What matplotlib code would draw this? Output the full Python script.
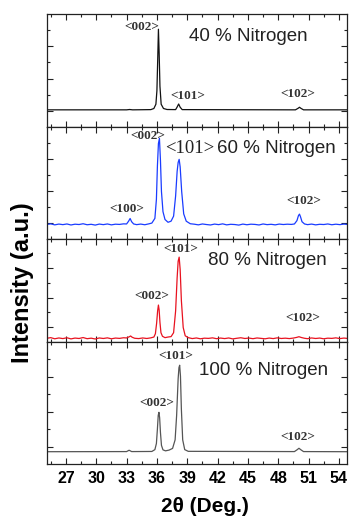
import matplotlib
matplotlib.use("Agg")
import matplotlib.pyplot as plt
from matplotlib.ticker import MultipleLocator, FixedLocator

# 2theta (deg) and intensity (a.u., 0-100 per panel)
tt_40 = [25.1, 33.0, 33.3, 33.6, 35.4, 35.7, 35.9, 36.0, 36.08, 36.15, 36.22,
         36.3, 36.42, 36.65, 37.0, 37.85, 38.0, 38.15, 38.3, 38.5, 49.7,
         49.95, 50.1, 50.25, 50.5, 54.8]
int_40 = [15.0, 15.0, 15.3, 15.0, 15.2, 16.2, 20.0, 32.0, 60.0, 86.7, 66.0,
          36.0, 20.0, 16.2, 15.3, 15.2, 17.5, 20.2, 17.3, 15.2, 15.0,
          16.3, 17.3, 16.3, 15.0, 15.0]

tt_60 = [25.1, 25.5, 25.9, 26.3, 26.7, 27.1, 27.5, 27.9, 28.3, 28.7,
         29.1, 29.5, 29.9, 30.3, 30.7, 31.1, 31.5, 31.9, 32.3, 32.7,
         33.0, 33.2, 33.35, 33.5, 33.7, 34.0, 34.4, 34.8, 35.2, 35.5,
         35.8, 35.95, 36.05, 36.15, 36.25, 36.35, 36.45, 36.6, 36.8, 37.1,
         37.4, 37.65, 37.85, 38.0, 38.1, 38.2, 38.3, 38.45, 38.65, 38.9,
         39.3, 39.7, 40.1, 40.5, 40.9, 41.3, 41.7, 42.1, 42.5, 42.9,
         43.3, 43.7, 44.1, 44.5, 44.9, 45.3, 45.7, 46.1, 46.5, 46.9,
         47.3, 47.7, 48.1, 48.5, 48.9, 49.3, 49.6, 49.85, 50.0, 50.1,
         50.2, 50.35, 50.6, 50.9, 51.3, 51.7, 52.1, 52.5, 52.9, 53.3,
         53.7, 54.1, 54.5, 54.8]
int_60 = [12.6, 13.1, 12.2, 12.9, 12.4, 13.0, 12.1, 12.8, 12.5, 13.2,
          12.3, 12.7, 12.0, 12.9, 12.4, 13.0, 12.2, 12.8, 12.6, 13.1,
          13.0, 15.5, 17.9, 15.0, 13.0, 12.4, 12.9, 12.3, 13.1, 13.8,
          18.0, 35.0, 65.0, 85.0, 89.6, 70.0, 42.0, 24.0, 17.0, 14.5,
          15.5, 20.0, 38.0, 60.0, 68.0, 70.8, 64.0, 42.0, 22.0, 15.5,
          13.2, 12.8, 12.2, 13.0, 12.5, 12.1, 12.9, 12.4, 13.1, 12.2,
          12.7, 12.5, 12.0, 12.9, 12.3, 12.8, 12.6, 12.1, 13.0, 12.4,
          12.7, 12.2, 12.9, 12.5, 12.8, 12.6, 13.0, 16.0, 20.5, 21.8,
          19.5, 15.0, 13.0, 12.4, 12.9, 12.2, 12.7, 12.5, 13.0, 12.3,
          12.8, 12.4, 12.9, 12.6]

tt_80 = [25.1, 25.5, 25.9, 26.3, 26.7, 27.1, 27.5, 27.9, 28.3, 28.7,
         29.1, 29.5, 29.9, 30.3, 30.7, 31.1, 31.5, 31.9, 32.3, 32.7,
         33.0, 33.25, 33.4, 33.55, 33.8, 34.2, 34.6, 35.0, 35.4, 35.7,
         35.85, 35.97, 36.07, 36.15, 36.22, 36.3, 36.4, 36.55, 36.8, 37.1,
         37.4, 37.65, 37.85, 38.0, 38.1, 38.2, 38.3, 38.42, 38.6, 38.8,
         39.1, 39.5, 39.9, 40.3, 40.7, 41.1, 41.5, 41.9, 42.3, 42.7,
         43.1, 43.5, 43.9, 44.3, 44.7, 45.1, 45.5, 45.9, 46.3, 46.7,
         47.1, 47.5, 47.9, 48.3, 48.7, 49.1, 49.5, 49.8, 50.05, 50.3,
         50.6, 50.9, 51.3, 51.7, 52.1, 52.5, 52.9, 53.3, 53.7, 54.1,
         54.5, 54.8]
int_80 = [3.6, 4.2, 3.1, 3.9, 3.3, 4.1, 3.0, 3.8, 3.4, 4.3,
          3.2, 3.7, 2.9, 3.9, 3.4, 4.0, 3.1, 3.8, 3.5, 4.1,
          3.9, 5.0, 5.8, 4.6, 3.6, 3.3, 3.9, 3.4, 4.0, 4.8,
          8.0, 18.0, 30.0, 35.7, 31.0, 19.0, 9.0, 5.5, 4.2, 4.8,
          5.2, 9.0, 30.0, 62.0, 78.0, 82.0, 70.0, 40.0, 14.0, 6.0,
          4.2, 3.3, 3.9, 3.1, 3.7, 3.5, 4.0, 3.2, 3.8, 3.3,
          3.9, 3.0, 3.6, 4.1, 3.4, 3.8, 3.2, 3.9, 3.5, 3.1,
          3.8, 3.3, 4.0, 3.4, 3.7, 3.3, 3.8, 4.4, 5.1, 4.3,
          3.6, 3.2, 3.9, 3.4, 3.8, 3.1, 3.7, 3.5, 4.0, 3.3,
          3.8, 3.5]

tt_100 = [25.1, 33.0, 33.25, 33.5, 35.5, 35.8, 35.95, 36.05, 36.13, 36.2,
          36.27, 36.35, 36.45, 36.6, 36.85, 37.2, 37.55, 37.8, 37.95, 38.1,
          38.18, 38.25, 38.33, 38.42, 38.55, 38.75, 39.1, 49.6, 49.85, 50.05,
          50.25, 50.5, 54.8]
int_100 = [10.3, 10.4, 11.5, 10.4, 10.5, 12.0, 17.0, 29.0, 40.0, 42.5,
           38.0, 26.0, 15.5, 11.8, 11.0, 11.6, 13.0, 20.0, 40.0, 70.0,
           79.0, 81.0, 72.0, 45.0, 20.0, 12.0, 10.6, 10.4, 11.8, 13.1,
           11.8, 10.4, 10.3]

panel_labels = ["40 % Nitrogen", "60 % Nitrogen", "80 % Nitrogen", "100 % Nitrogen"]
line_colors = ["#111111", "#1a3cff", "#e8121f", "#555555"]
x_ticks_step = 3

series = [(tt_40, int_40), (tt_60, int_60), (tt_80, int_80), (tt_100, int_100)]

# reflection labels per panel: (text, 2theta, intensity)
peaks_40 = [("<002>", 34.5, 89.0), ("<101>", 39.05, 27.6), ("<102>", 49.9, 28.8)]
peaks_60 = [("<002>", 35.07, 92.0), ("<100>", 33.06, 26.1), ("<102>", 50.5, 33.5)]
peaks_80 = [("<101>", 38.4, 89.9), ("<002>", 35.47, 44.7), ("<102>", 50.45, 23.5)]
peaks_100 = [("<101>", 37.87, 88.6), ("<002>", 36.0, 49.9), ("<102>", 49.9, 22.1)]
peak_sets = [peaks_40, peaks_60, peaks_80, peaks_100]

W, H = 350, 518
fig = plt.figure(figsize=(W / 100, H / 100), dpi=100)

# panel edges in pixels (top, bottom)
edges = [(14.3, 126.7), (126.7, 238.5), (238.5, 342.0), (342.0, 464.3)]
left_px, right_px = 46.7, 347.0

axes = []
for i, (top, bot) in enumerate(edges):
    ax = fig.add_axes([left_px / W, 1 - bot / H, (right_px - left_px) / W, (bot - top) / H])
    tt, inten = series[i]
    ax.plot(tt, inten, color=line_colors[i], lw=0.9)
    ax.set_xlim(25.1, 54.8)
    ax.set_ylim(0, 100)
    ax.xaxis.set_major_locator(MultipleLocator(x_ticks_step))
    ax.xaxis.set_minor_locator(MultipleLocator(x_ticks_step / 2))
    ax.yaxis.set_major_locator(FixedLocator([100 / 7 * k for k in (1, 3, 5)]))
    ax.yaxis.set_minor_locator(FixedLocator([100 / 7 * k for k in (2, 4, 6)]))
    ax.tick_params(which="both", direction="in", top=True, right=True,
                   labelleft=False, labelbottom=(i == 3), color="#222222", width=0.8)
    ax.tick_params(which="major", length=4)
    ax.tick_params(which="minor", length=2)
    for s in ax.spines.values():
        s.set_linewidth(0.9)
        s.set_color("#222222")
    for txt, x, y in peak_sets[i]:
        ax.text(x, y, txt, ha="center", va="center", family="Liberation Serif",
                fontweight="bold", fontsize=9.5, color="#333333")
    axes.append(ax)

# condition labels
axes[0].text(45.0, 80.1, panel_labels[0], ha="center", va="center",
             family="Liberation Sans", fontsize=13.5, color="#222222")
axes[1].text(39.25, 80.7, "<101>", ha="center", va="center",
             family="Liberation Serif", fontsize=13.5, color="#222222")
axes[1].text(41.9, 80.7, panel_labels[1], ha="left", va="center",
             family="Liberation Sans", fontsize=13.5, color="#222222", clip_on=True)
axes[2].text(46.96, 78.6, panel_labels[2], ha="center", va="center",
             family="Liberation Sans", fontsize=13.5, color="#222222")
axes[3].text(46.55, 76.5, panel_labels[3], ha="center", va="center",
             family="Liberation Sans", fontsize=13.5, color="#222222")

for lab in axes[3].get_xticklabels():
    lab.set_fontfamily("Liberation Sans")
    lab.set_fontweight("bold")
    lab.set_fontsize(11.5)
axes[3].tick_params(axis="x", pad=5)

fig.text(22.5 / W, 1 - 282.5 / H, "Intensity (a.u.)", rotation=90, ha="center", va="center",
         family="Liberation Sans", fontweight="bold", fontsize=17)
fig.text(205 / W, 1 - 506.7 / H, "2θ (Deg.)", ha="center", va="center",
         family="Liberation Sans", fontweight="bold", fontsize=15)

fig.savefig("out.png", dpi=100)
